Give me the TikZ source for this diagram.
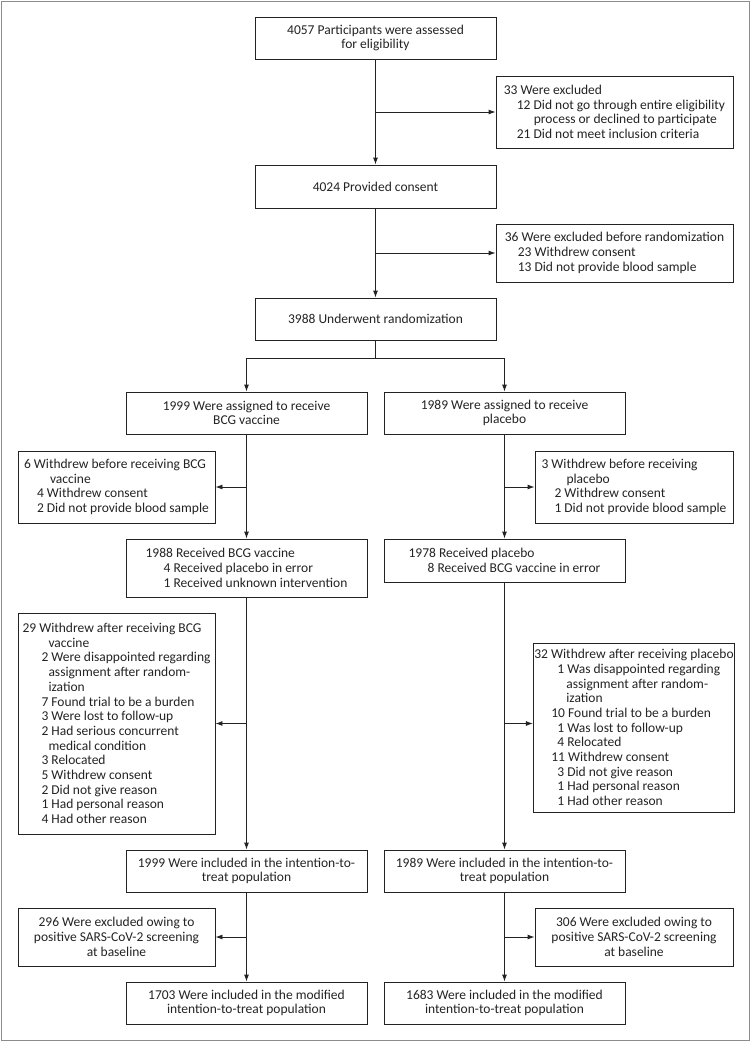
\documentclass[tikz,border=0pt]{standalone}
\usepackage{fontspec}
\setmainfont{Carlito}
\usetikzlibrary{
  arrows.meta,
  calc,
}
\definecolor{inkgray}{RGB}{35,35,35}
\definecolor{framegray}{RGB}{140,140,140}
\tikzstyle{box} = [
  draw=inkgray,
  line width=0.9pt,
  minimum width=241pt,
  minimum height=42pt,
  inner sep=1pt,
  align=center,
  text=inkgray,
  font=\fontsize{13.5}{14.7}\selectfont,
]
\tikzstyle{sidebox} = [
  box,
  minimum width=197pt,
  align=left,
]
\tikzstyle{arrow} = [
  -{Latex[length=7pt,width=5pt]},
  draw=inkgray,
  line width=0.9pt,
]
\newcommand{\subind}[1]{\hspace*{#1pt}}

\begin{document}
\begin{tikzpicture}[x=1pt, y=-1pt]

        \useasboundingbox (0,0) rectangle (751,1042);
        \draw [framegray, line width=1.8pt] (1.5,1.5) rectangle (749.5,1040.5);

        \node [box] (assess) at (375.5,38) {4057 Participants were assessed\\for eligibility};

        \node [sidebox, minimum width=237pt, minimum height=72pt] (excl1) at (614.5,112)
              {33 Were excluded\\
               \subind{13}12 Did not go through entire eligibility\\
               \subind{30}process or declined to participate\\
               \subind{13}21 Did not meet inclusion criteria};

        \node [box, minimum height=43pt] (consent) at (375.5,186.5) {4024 Provided consent};

        \node [sidebox, minimum width=237pt, minimum height=58pt] (excl2) at (614.5,253)
              {36 Were excluded before randomization\\
               \subind{13}23 Withdrew consent\\
               \subind{13}13 Did not provide blood sample};

        \node [box] (rand) at (375.5,319) {3988 Underwent randomization};

        \coordinate (split) at (375.5,358);

        % BCG arm
        \node [box] (bcg) at (246.5,413) {1999 Were assigned to receive\\BCG vaccine};

        \node [sidebox, minimum height=72pt] (wd1) at (116.5,487)
              {6 Withdrew before receiving BCG\\
               \subind{26}vaccine\\
               \subind{13}4 Withdrew consent\\
               \subind{13}2 Did not provide blood sample};

        \node [box, align=left, minimum height=58pt] (bcgrec) at (246.5,568)
              {1988 Received BCG vaccine\\
               \subind{18}4 Received placebo in error\\
               \subind{18}1 Received unknown intervention};

        \node [sidebox, minimum height=221pt] (wd3) at (116.5,723.5)
              {29 Withdrew after receiving BCG\\
               \subind{26}vaccine\\
               \subind{19}2 Were disappointed regarding\\
               \subind{26}assignment after random-\\
               \subind{26}ization\\
               \subind{19}7 Found trial to be a burden\\
               \subind{19}3 Were lost to follow-up\\
               \subind{19}2 Had serious concurrent\\
               \subind{26}medical condition\\
               \subind{19}3 Relocated\\
               \subind{19}5 Withdrew consent\\
               \subind{19}2 Did not give reason\\
               \subind{19}1 Had personal reason\\
               \subind{19}4 Had other reason};

        \node [box] (itt1) at (246.5,871) {1999 Were included in the intention-to-\\treat population};

        \node [sidebox, align=center, minimum height=58pt] (ex1) at (116.5,937)
              {296 Were excluded owing to\\positive SARS-CoV-2 screening\\at baseline};

        \node [box] (mitt1) at (246.5,1003) {1703 Were included in the modified\\intention-to-treat population};

        % placebo arm
        \node [box] (plc) at (504.5,413) {1989 Were assigned to receive\\placebo};

        \node [sidebox, minimum width=198pt, minimum height=72pt] (wd2) at (634,487)
              {3 Withdrew before receiving\\
               \subind{25}placebo\\
               \subind{13}2 Withdrew consent\\
               \subind{13}1 Did not provide blood sample};

        \node [box, align=left, minimum height=43pt] (plcrec) at (504.5,560.5)
              {1978 Received placebo\\
               \subind{19}8 Received BCG vaccine in error};

        \node [sidebox, minimum width=198pt, minimum height=169pt] (wd4) at (634,727.5)
              {32 Withdrew after receiving placebo\\
               \subind{23}1 Was disappointed regarding\\
               \subind{32}assignment after random-\\
               \subind{32}ization\\
               \subind{17}10 Found trial to be a burden\\
               \subind{23}1 Was lost to follow-up\\
               \subind{23}4 Relocated\\
               \subind{17}11 Withdrew consent\\
               \subind{23}3 Did not give reason\\
               \subind{23}1 Had personal reason\\
               \subind{23}1 Had other reason};

        \node [box] (itt2) at (504.5,871) {1989 Were included in the intention-to-\\treat population};

        \node [sidebox, minimum width=198pt, align=center, minimum height=58pt] (ex2) at (634,937)
              {306 Were excluded owing to\\positive SARS-CoV-2 screening\\at baseline};

        \node [box] (mitt2) at (504.5,1003) {1683 Were included in the modified\\intention-to-treat population};

        % connectors
        \draw [arrow] (assess) -- (consent);
        \draw [arrow] (assess.south |- excl1.west) -- (excl1.west);
        \draw [arrow] (consent) -- (rand);
        \draw [arrow] (consent.south |- excl2.west) -- (excl2.west);
        \draw [inkgray, line width=0.9pt] (rand.south) -- (split);
        \draw [arrow] (split) -| (bcg.north);
        \draw [arrow] (split) -| (plc.north);

        \draw [arrow] (bcg) -- (bcgrec);
        \draw [arrow] (bcg.south |- wd1.east) -- (wd1.east);
        \draw [arrow] (bcgrec) -- (itt1);
        \draw [arrow] (bcgrec.south |- wd3.east) -- (wd3.east);
        \draw [arrow] (itt1) -- (mitt1);
        \draw [arrow] (itt1.south |- ex1.east) -- (ex1.east);

        \draw [arrow] (plc) -- (plcrec);
        \draw [arrow] (plc.south |- wd2.west) -- (wd2.west);
        \draw [arrow] (plcrec) -- (itt2);
        \draw [arrow] (plcrec.south |- wd3.east) -- (wd3.east -| wd4.west);
        \draw [arrow] (itt2) -- (mitt2);
        \draw [arrow] (itt2.south |- ex2.west) -- (ex2.west);
      \end{tikzpicture}
\end{document}
